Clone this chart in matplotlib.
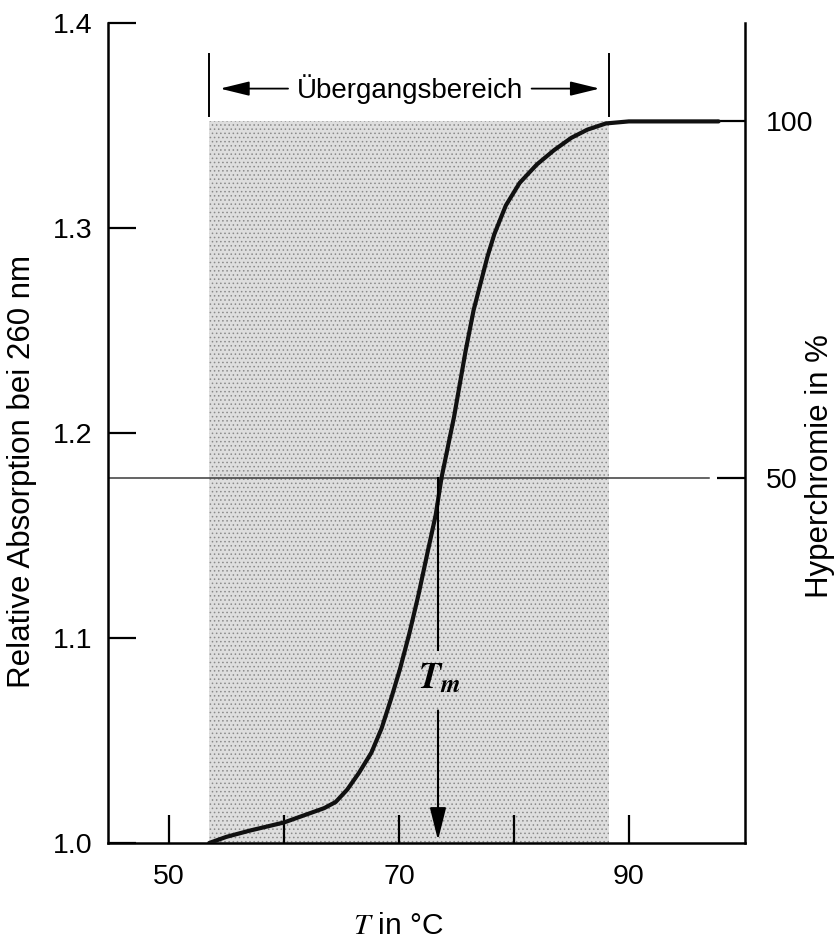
import numpy as np
import matplotlib
matplotlib.use("Agg")
import matplotlib.pyplot as plt

plt.rcParams['font.family'] = ['Liberation Sans', 'DejaVu Sans']
plt.rcParams['mathtext.fontset'] = 'stix'
plt.rcParams['hatch.linewidth'] = 0.6

# melting curve
temp = [53.5, 55.0, 57.0, 60.0, 62.0, 63.5, 64.5, 65.5, 66.5, 67.6, 68.5, 69.3,
        70.1, 70.9, 71.7, 72.5, 73.2, 73.7, 74.8, 75.8, 76.5, 77.1, 77.7, 78.3,
        79.3, 80.5, 82.0, 83.5, 85.0, 86.4, 88.0, 90.0, 97.8]
absorb = [1.000, 1.003, 1.006, 1.010, 1.014, 1.017, 1.020, 1.026, 1.034, 1.044, 1.056, 1.070,
          1.085, 1.102, 1.121, 1.142, 1.160, 1.178, 1.208, 1.240, 1.260, 1.273, 1.286, 1.297,
          1.311, 1.322, 1.331, 1.338, 1.344, 1.348, 1.351, 1.352, 1.352]

trans_start, trans_end = 53.5, 88.3   # Übergangsbereich
a_low, a_high = 1.004, 1.352          # 0 % and 100 % hyperchromicity
a_half = 1.178                        # 50 %
t_melt = 73.4

y_ticks = [1.0, 1.1, 1.2, 1.3, 1.4]
x_major = [50, 70, 90]
x_minor = [60, 80]
pct_ticks = [50, 100]

fig = plt.figure(figsize=(8.37, 9.40), dpi=100)
ax = fig.add_axes([108/837, 1 - 843/940, (745 - 108)/837, (843 - 23)/940])
ax.set_xlim(44.7, 100.1)
ax.set_ylim(1.0, 1.4)

# stippled transition region
ax.fill_between([trans_start, trans_end], 1.0, a_high, facecolor='#dedede',
                hatch='....', edgecolor='#8a8a8a', linewidth=0, zorder=1)

# 50 % line
ax.plot([44.7, 97.0], [a_half, a_half], color='#3a3a3a', lw=1.1, zorder=2)

# curve
ax.plot(temp, absorb, color='#111111', lw=3.0, solid_capstyle='round',
        solid_joinstyle='round', zorder=3)

# T_m arrow
ax.plot([t_melt, t_melt], [a_half, 1.094], color='black', lw=1.5, zorder=4)
ax.annotate('', xy=(t_melt, 1.0), xytext=(t_melt, 1.066),
            arrowprops=dict(arrowstyle='-|>,head_length=1.0,head_width=0.25',
                            color='black', lw=1.5, mutation_scale=20), zorder=4)
ax.text(t_melt + 0.1, 1.080, r'$\mathbfit{T}_{\mathbfit{m}}$', fontsize=26,
        ha='center', va='center', zorder=5)

# Übergangsbereich bracket
for t in (trans_start, trans_end):
    ax.plot([t, t], [1.3545, 1.385], color='black', lw=1.4)
ax.text(71.0, 1.368, 'Übergangsbereich', fontsize=20, ha='center', va='center')
arrow = dict(arrowstyle='-|>,head_length=0.9,head_width=0.22', color='black',
             lw=1.3, mutation_scale=20)
ax.annotate('', xy=(54.2, 1.368), xytext=(60.6, 1.368), arrowprops=arrow)
ax.annotate('', xy=(87.7, 1.368), xytext=(81.3, 1.368), arrowprops=arrow)

# axes styling
ax.spines['top'].set_visible(False)
ax.spines['right'].set_visible(False)
for s in ('left', 'bottom'):
    ax.spines[s].set_linewidth(1.8)

ax.set_yticks(y_ticks)
ax.set_yticklabels(['1.0', '1.1', '1.2', '1.3', '1.4'])
ax.set_xticks(x_major)
ax.set_xticks(x_minor, minor=True)
ax.tick_params(axis='both', which='both', direction='in', length=20, width=1.6,
               labelsize=20.5)
ax.tick_params(axis='y', pad=11)
ax.tick_params(axis='x', pad=15)


def a2p(a):
    return (np.asarray(a) - a_low) / (a_high - a_low) * 100


def p2a(p):
    return a_low + np.asarray(p) / 100 * (a_high - a_low)


sec = ax.secondary_yaxis('right', functions=(a2p, p2a))
sec.set_yticks(pct_ticks)
sec.set_yticklabels(['50', '100'])
sec.tick_params(direction='in', length=20, width=1.6, labelsize=20.5, pad=15)
sec.spines['right'].set_linewidth(1.8)

fig.text(22/837, 1 - 472/940, 'Relative Absorption bei 260 nm', rotation=90,
         ha='center', va='center', fontsize=22.5)
fig.text(820/837, 1 - 466/940, 'Hyperchromie in %', rotation=90,
         ha='center', va='center', fontsize=22.5)
fig.text(398/837, 1 - 926/940, r'$\mathit{T}$ in °C', ha='center', va='center',
         fontsize=21.5)

fig.savefig('out.png', dpi=100)
